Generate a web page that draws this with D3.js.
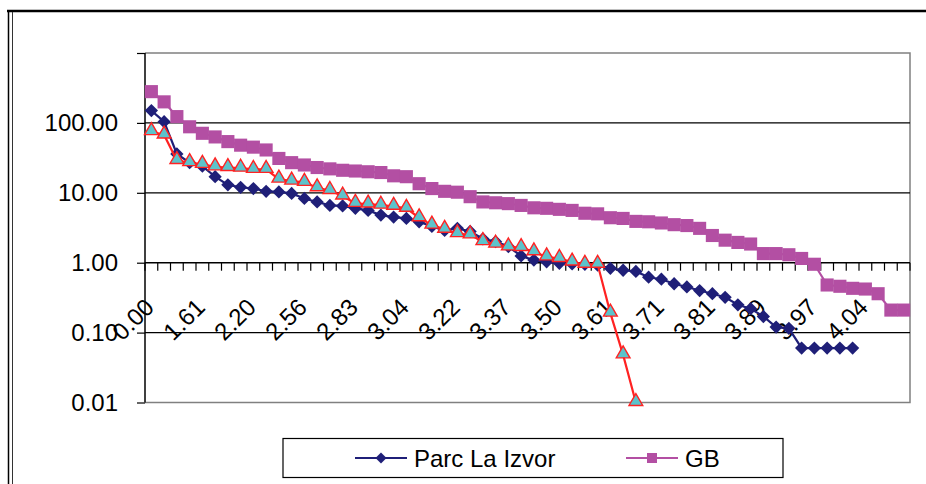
<!DOCTYPE html>
<html>
<head>
<meta charset="utf-8">
<script src="https://cdn.jsdelivr.net/npm/d3@7"></script>
<style>
    body { margin: 0; background: #fff; }
    text { font-family: "Liberation Sans", Arial, sans-serif; fill: #000; }
</style>
</head>
<body>
<div id="chart"></div>
<script>

// Category labels, one shown every 4th category.
const tickLabels = ["0.00", "1.61", "2.20", "2.56", "2.83", "3.04", "3.22", "3.37",
    "3.50", "3.61", "3.71", "3.81", "3.89", "3.97", "4.04"];
const labelStep = 4;

const parcLaIzvor = [150, 104, 36, 27, 24, 17, 13, 12, 11.5, 10.5,
    10.3, 9.8, 8.3, 7.4, 6.6, 6.5, 6.0, 5.6, 4.8, 4.5,
    4.3, 3.85, 3.3, 2.9, 3.1, 2.8, 2.2, 2.0, 1.7, 1.25,
    1.09, 1.03, 0.98, 0.96, 0.95, 0.92, 0.83, 0.78, 0.75, 0.62,
    0.58, 0.5, 0.45, 0.4, 0.36, 0.32, 0.25, 0.22, 0.17, 0.12,
    0.115, 0.06, 0.06, 0.06, 0.06, 0.06];

const gb = [280, 200, 123, 88, 71, 63, 54, 48, 45, 41,
    31, 27, 25, 23, 22, 21, 20.5, 20, 19.5, 17.5,
    17, 13.5, 11.5, 10.5, 10.2, 8.8, 7.4, 7.2, 7.0, 6.6,
    6.1, 6.0, 5.8, 5.6, 5.1, 5.0, 4.4, 4.3, 3.9, 3.85,
    3.7, 3.5, 3.4, 3.1, 2.45, 2.1, 1.95, 1.85, 1.35, 1.35,
    1.3, 1.15, 0.95, 0.48, 0.46, 0.43, 0.42, 0.36, 0.21, 0.21];

// Third series (not in the visible legend).
const series3 = [75, 67, 29, 27, 25.5, 23.5, 23, 22.5, 21.6, 21.6,
    15.7, 14.7, 14.1, 11.8, 10.8, 9.0, 7.05, 6.9, 6.65, 6.4,
    6.0, 4.4, 3.45, 3.0, 2.6, 2.5, 2.0, 1.84, 1.68, 1.65,
    1.43, 1.21, 1.15, 1.02, 0.95, 0.95, 0.19, 0.048, 0.01];

const yTicks = [0.01, 0.1, 1, 10, 100];
const yGrid = [0.1, 10, 100];

const navy = "#1f1f78";
const magenta = "#b34fa3";

const margin = {top: 53, left: 145};
const width = 765;
const height = 349.5;

const x = d3.scaleBand()
    .domain(d3.range(gb.length))
    .range([0, width]);

const y = d3.scaleLog()
    .domain([0.01, 1000])
    .range([height, 0]);

const cx = i => x(i) + x.bandwidth() / 2;

const svg = d3.select("#chart").append("svg")
    .attr("width", 926)
    .attr("height", 484);

// Outer chart frame (cropped on the right and bottom).
svg.append("line").attr("x1", 7).attr("x2", 926).attr("y1", 11).attr("y2", 11)
    .attr("stroke", "#000").attr("stroke-width", 2.5);
svg.append("line").attr("x1", 8.5).attr("x2", 8.5).attr("y1", 10).attr("y2", 484)
    .attr("stroke", "#000").attr("stroke-width", 1.5);
svg.append("line").attr("x1", 12.5).attr("x2", 12.5).attr("y1", 12).attr("y2", 484)
    .attr("stroke", "#333").attr("stroke-width", 1);

const g = svg.append("g")
    .attr("transform", `translate(${margin.left},${margin.top})`);

// Plot area border.
g.append("path")
    .attr("d", `M0,0H${width}V${height}H0`)
    .attr("fill", "none")
    .attr("stroke", "#808080")
    .attr("stroke-width", 1.5);

// Gridlines.
g.selectAll(".grid").data(yGrid).enter().append("line")
    .attr("x1", 0).attr("x2", width)
    .attr("y1", d => y(d)).attr("y2", d => y(d))
    .attr("stroke", "#000").attr("stroke-width", 1.2);

// Y axis.
const yAxis = g.append("g")
    .call(d3.axisLeft(y).tickValues(yTicks.concat([1000])).tickSize(8).tickFormat(d3.format(".2f")));
yAxis.select(".domain").attr("stroke", "#000").attr("stroke-width", 1.5).attr("d", `M0,0V${height}`);
yAxis.selectAll(".tick line").attr("stroke", "#000").attr("stroke-width", 1.2);
yAxis.selectAll(".tick text")
    .attr("x", -27)
    .style("font-size", "24px")
    .style("font-family", "\"Liberation Sans\", Arial, sans-serif")
    .attr("fill", "#000")
    .text(d => d === 1000 ? "" : d3.format(".2f")(d));

// X axis crossing at 1.00, with category tick marks.
const xAxisG = g.append("g")
    .attr("transform", `translate(0,${y(1)})`);
xAxisG.append("line")
    .attr("x1", 0).attr("x2", width)
    .attr("stroke", "#000").attr("stroke-width", 1.5);
xAxisG.selectAll(".xtick").data(d3.range(gb.length + 1)).enter().append("line")
    .attr("x1", d => d * x.step()).attr("x2", d => d * x.step())
    .attr("y1", 0).attr("y2", 8)
    .attr("stroke", "#000").attr("stroke-width", 1.2);

g.selectAll(".xlabel").data(tickLabels).enter().append("text")
    .attr("transform", (d, k) => `translate(${cx(k * labelStep) + 4},${y(1) + 46}) rotate(-45)`)
    .attr("text-anchor", "end")
    .style("font-size", "24px")
    .text(d => d);

// Line generator shared by the three series.
const line = d3.line()
    .x((d, i) => cx(i))
    .y(d => y(d));

const diamond = d3.symbol().type(d3.symbolSquare).size(88)();
const square = d3.symbol().type(d3.symbolSquare).size(172)();
const triangle = d3.symbol().type(d3.symbolTriangle).size(82)();

// Parc La Izvor.
g.append("path")
    .attr("d", line(parcLaIzvor))
    .attr("fill", "none").attr("stroke", navy).attr("stroke-width", 2.2);
g.selectAll(".izvor").data(parcLaIzvor).enter().append("path")
    .attr("d", diamond)
    .attr("transform", (d, i) => `translate(${cx(i)},${y(d)}) rotate(45)`)
    .attr("fill", navy);

// GB.
g.append("path")
    .attr("d", line(gb))
    .attr("fill", "none").attr("stroke", magenta).attr("stroke-width", 2.2);
g.selectAll(".gb").data(gb).enter().append("path")
    .attr("d", square)
    .attr("transform", (d, i) => `translate(${cx(i)},${y(d)})`)
    .attr("fill", magenta);

// Third series.
g.append("path")
    .attr("d", line(series3))
    .attr("fill", "none").attr("stroke", "#ff2222").attr("stroke-width", 2.2);
g.selectAll(".s3").data(series3).enter().append("path")
    .attr("d", triangle)
    .attr("transform", (d, i) => `translate(${cx(i)},${y(d) - 1})`)
    .attr("fill", "#5cc3cb")
    .attr("stroke", "#ff2222")
    .attr("stroke-width", 1.4);

// Legend.
const legend = svg.append("g");
legend.append("rect")
    .attr("x", 283).attr("y", 438.5).attr("width", 500).attr("height", 39)
    .attr("fill", "#fff").attr("stroke", "#000").attr("stroke-width", 1.2);

const legendItems = [
    {label: "Parc La Izvor", color: navy, shape: d3.symbol().type(d3.symbolSquare).size(60)(), rot: 45, x: 355},
    {label: "GB", color: magenta, shape: d3.symbol().type(d3.symbolSquare).size(100)(), rot: 0, x: 626}
];

legendItems.forEach(item => {
    legend.append("line")
        .attr("x1", item.x).attr("x2", item.x + 52)
        .attr("y1", 458).attr("y2", 458)
        .attr("stroke", item.color).attr("stroke-width", 2.2);
    legend.append("path")
        .attr("d", item.shape)
        .attr("transform", `translate(${item.x + 26},458) rotate(${item.rot})`)
        .attr("fill", item.color);
    legend.append("text")
        .attr("x", item.x + 59)
        .attr("y", 466.5)
        .style("font-size", "24px")
        .text(item.label);
});

</script>
</body>
</html>
